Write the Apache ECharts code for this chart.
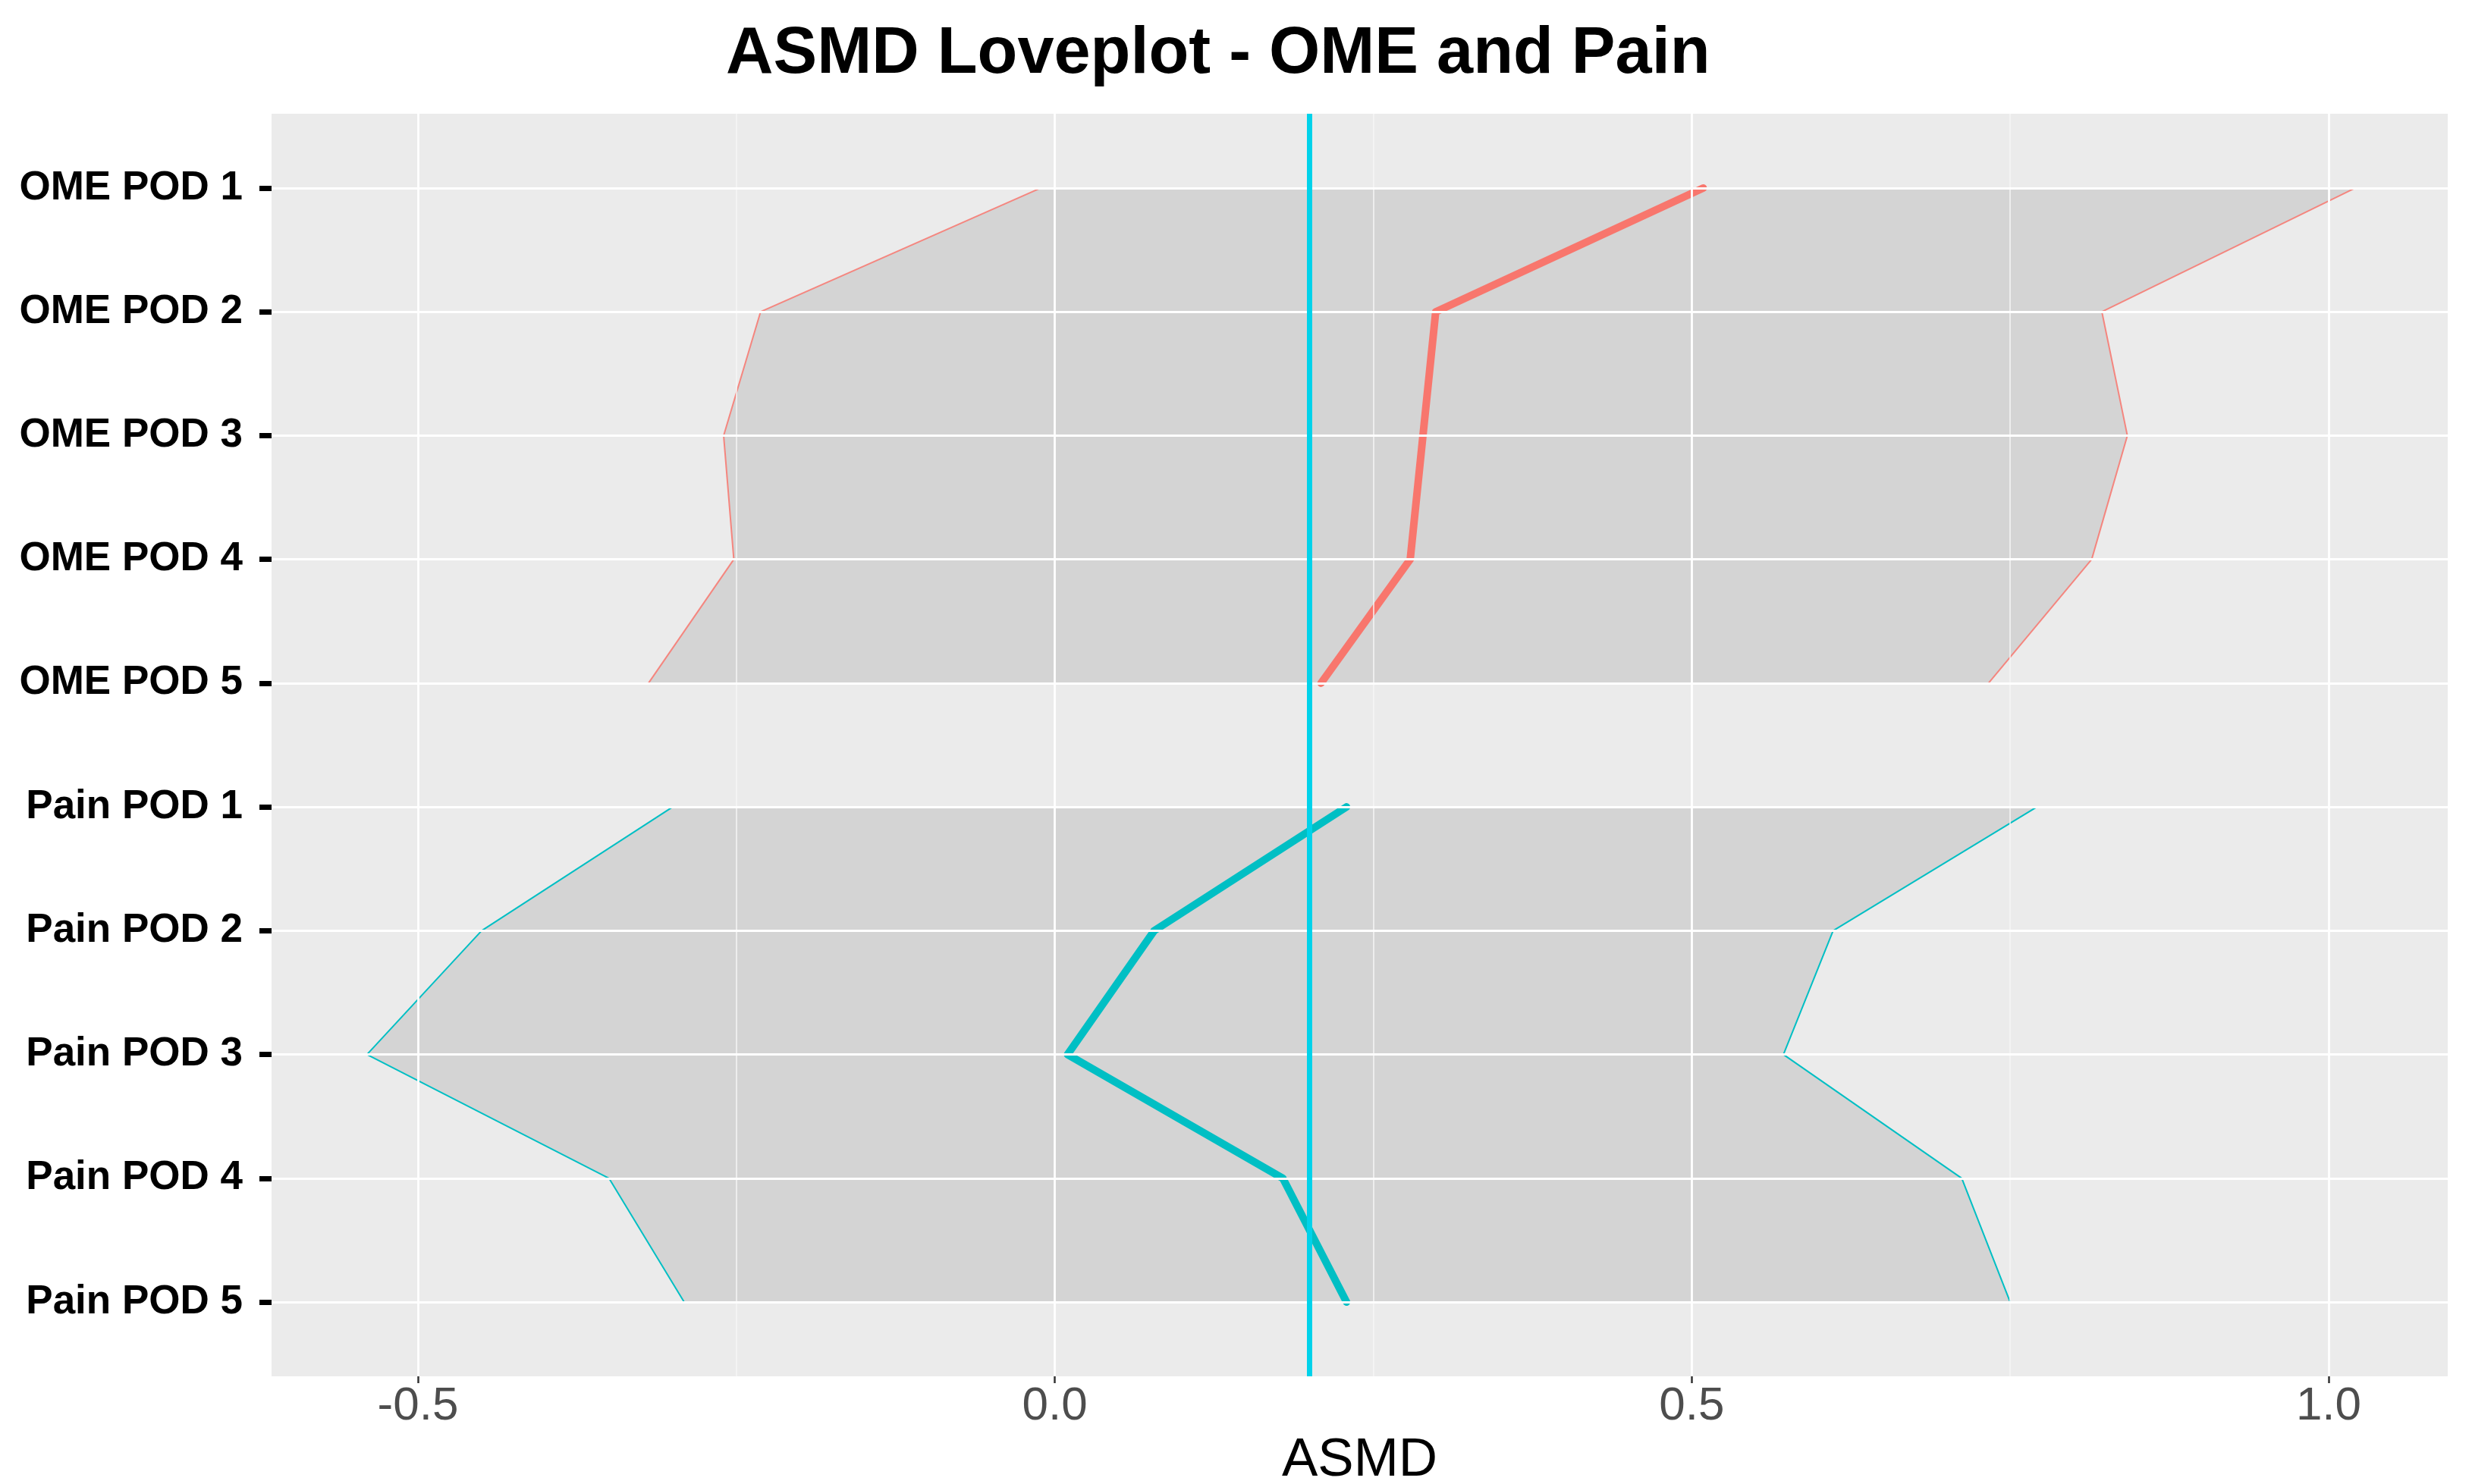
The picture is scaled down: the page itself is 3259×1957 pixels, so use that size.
<!DOCTYPE html>
<html>
<head>
<meta charset="utf-8">
<script src="https://cdn.jsdelivr.net/npm/echarts@6/dist/echarts.min.js"></script>
<style>
html,body{margin:0;padding:0;background:#fff;}
#chart{width:3259px;height:1957px;}
</style>
</head>
<body>
<div id="chart"></div>
<script>
// ---- data ----
const categories = ['OME POD 1','OME POD 2','OME POD 3','OME POD 4','OME POD 5',
                    'Pain POD 1','Pain POD 2','Pain POD 3','Pain POD 4','Pain POD 5'];
const omeMean  = [0.509, 0.299, 0.289, 0.279, 0.209];
const omeLower = [-0.011, -0.231, -0.260, -0.252, -0.319];
const omeUpper = [1.021, 0.822, 0.842, 0.814, 0.733];
const painMean  = [0.229, 0.078, 0.010, 0.179, 0.229];
const painLower = [-0.300, -0.450, -0.540, -0.350, -0.291];
const painUpper = [0.771, 0.611, 0.572, 0.712, 0.750];
const xTicks = [-0.5, 0, 0.5, 1.0];
const xMinor = [-0.75, -0.25, 0.25, 0.75];
const threshold = 0.2;
const title = 'ASMD Loveplot - OME and Pain';
const xTitle = 'ASMD';

// ---- helpers ----
const FONT = "'Liberation Sans', Arial, sans-serif";
const RED = '#F8766D', CYAN = '#00BFC4', VLINE = '#00D2EA';
const yPos = categories.map((c, i) => i + 1);
const omeY = yPos.slice(0, 5), painY = yPos.slice(5, 10);
const pairs = (xs, ys) => xs.map((v, i) => [v, ys[i]]);

function bandSeries(lower, upper, ys) {
  return {
    type: 'custom', z: 2, silent: true,
    data: [[lower[0], ys[0]]],
    renderItem: function (params, api) {
      if (params.dataIndex !== 0) return null;
      const pts = [];
      for (let i = 0; i < ys.length; i++) pts.push(api.coord([lower[i], ys[i]]));
      for (let i = ys.length - 1; i >= 0; i--) pts.push(api.coord([upper[i], ys[i]]));
      return { type: 'polygon', shape: { points: pts }, style: { fill: 'rgba(0,0,0,0.095)', stroke: null } };
    }
  };
}
function lineSeries(xs, ys, color, width, z, opacity) {
  return {
    type: 'line', z: z, silent: true, symbol: 'none', animation: false,
    data: pairs(xs, ys),
    lineStyle: { color: color, width: width, cap: 'round', join: 'round', opacity: opacity || 1 }
  };
}

const chart = echarts.init(document.getElementById('chart'), null, { renderer: 'canvas' });
chart.setOption({
  animation: false,
  backgroundColor: '#ffffff',
  textStyle: { fontFamily: FONT },
  title: {
    text: title, left: 952, top: 24,
    textStyle: { fontSize: 86.5, fontWeight: 'bold', color: '#000', fontFamily: FONT }
  },
  grid: {
    left: 358, right: 32, top: 150, bottom: 142,
    outerBoundsMode: 'none', containLabel: false,
    show: true, backgroundColor: '#EBEBEB', borderWidth: 0
  },
  xAxis: {
    type: 'value', min: -0.6149, max: 1.0935,
    axisLine: { show: false, onZero: false },
    splitLine: { show: false },
    axisTick: { show: true, customValues: xTicks, length: 9, lineStyle: { color: '#333333', width: 2.5 } },
    axisLabel: {
      customValues: xTicks, fontSize: 62, color: '#4D4D4D', margin: 9, fontFamily: FONT,
      formatter: v => Number(v).toFixed(1)
    },
    name: xTitle, nameLocation: 'middle', nameGap: 76,
    nameTextStyle: { fontSize: 71, color: '#000', fontFamily: FONT }
  },
  yAxis: {
    type: 'value', min: 0.4, max: 10.6, inverse: true,
    axisLine: { show: false, onZero: false },
    splitLine: { show: false },
    axisTick: { show: true, customValues: yPos, length: 16, lineStyle: { color: '#000', width: 7 } },
    axisLabel: {
      customValues: yPos, fontSize: 53, fontWeight: 'bold', color: '#000', margin: 38, fontFamily: FONT,
      formatter: v => categories[Math.round(v) - 1] || ''
    }
  },
  series: [
    {
      type: 'line', z: 1, silent: true, symbol: 'none', data: [],
      markLine: {
        silent: true, symbol: 'none', label: { show: false }, animation: false,
        data: [
          ...xMinor.map(v => ({ xAxis: v, lineStyle: { color: '#F6F6F6', width: 1.5, type: 'solid' } })),
          ...xTicks.map(v => ({ xAxis: v, lineStyle: { color: '#FFFFFF', width: 2.8, type: 'solid' } })),
          ...yPos.map(v => ({ yAxis: v, lineStyle: { color: '#FFFFFF', width: 2.8, type: 'solid' } }))
        ]
      }
    },
    bandSeries(omeLower, omeUpper, omeY),
    bandSeries(painLower, painUpper, painY),
    lineSeries(omeLower, omeY, RED, 2, 3, 0.85),
    lineSeries(omeUpper, omeY, RED, 2, 3, 0.85),
    lineSeries(painLower, painY, CYAN, 2, 3),
    lineSeries(painUpper, painY, CYAN, 2, 3),
    lineSeries(omeMean, omeY, RED, 10, 4),
    lineSeries(painMean, painY, CYAN, 10, 4),
    {
      type: 'line', z: 5, silent: true, symbol: 'none', data: [],
      markLine: {
        silent: true, symbol: 'none', label: { show: false }, animation: false,
        data: [{ xAxis: threshold, lineStyle: { color: VLINE, width: 7, type: 'solid' } }]
      }
    }
  ]
});
</script>
</body>
</html>
